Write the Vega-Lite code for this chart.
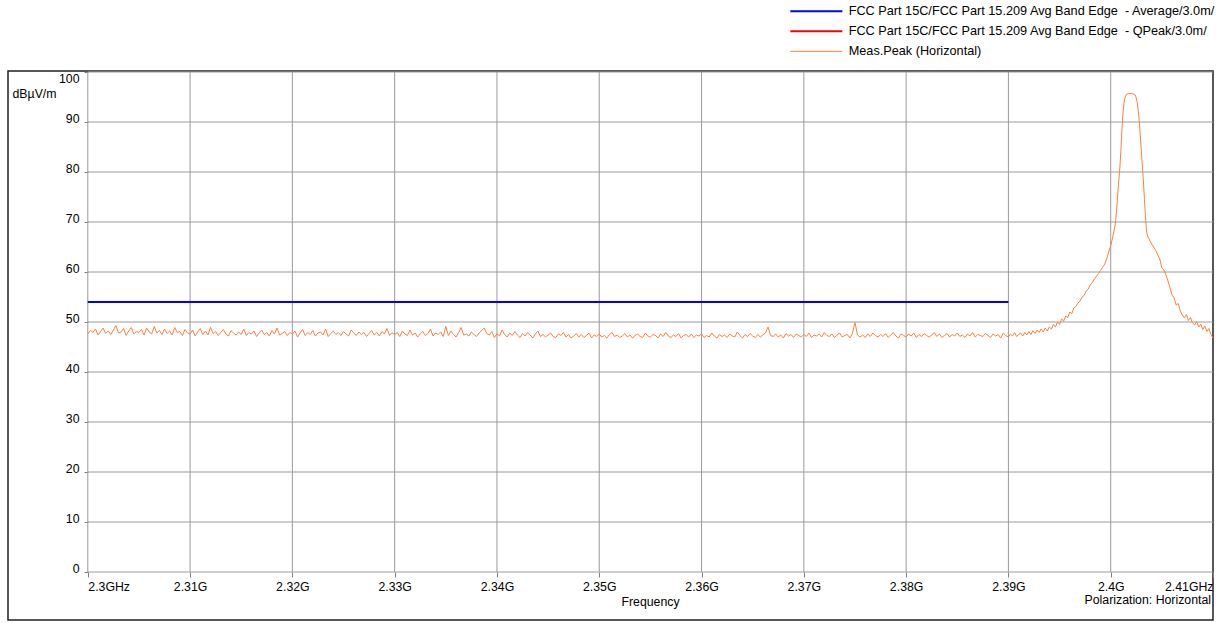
{
  "$schema": "https://vega.github.io/schema/vega-lite/v6.json",
  "width": 1205,
  "height": 549,
  "autosize": "none",
  "padding": {"left": 8, "top": 71, "right": 12, "bottom": 3},
  "background": "#ffffff",
  "config": {
    "view": {"stroke": "#202020", "strokeWidth": 1.5},
    "font": "Liberation Sans",
    "axis": {"labelFont": "Liberation Sans", "titleFont": "Liberation Sans", "labelColor": "#000000", "titleColor": "#000000"},
    "legend": {"labelFont": "Liberation Sans"},
    "title": {"font": "Liberation Sans"}
  },
  "title": {
    "text": "Polarization: Horizontal",
    "orient": "bottom",
    "anchor": "end",
    "frame": "group",
    "offset": -26,
    "dx": -2,
    "fontSize": 12.3,
    "fontWeight": "normal",
    "color": "#000000"
  },
  "datasets": {
    "vgrid": [{"f": 2300}, {"f": 2310}, {"f": 2320}, {"f": 2330}, {"f": 2340}, {"f": 2350}, {"f": 2360}, {"f": 2370}, {"f": 2380}, {"f": 2390}, {"f": 2400}],
    "hgrid": [{"v": 0}, {"v": 10}, {"v": 20}, {"v": 30}, {"v": 40}, {"v": 50}, {"v": 60}, {"v": 70}, {"v": 80}, {"v": 90}, {"v": 100}],
    "limit": [
      {"s": "FCC Part 15C/FCC Part 15.209 Avg Band Edge\u00a0 - Average/3.0m/", "f": 2300, "v": 54},
      {"s": "FCC Part 15C/FCC Part 15.209 Avg Band Edge\u00a0 - Average/3.0m/", "f": 2390, "v": 54}
    ],
    "trace": [
      {"f":2300,"v":47.6},{"f":2300.25,"v":48.3},{"f":2300.5,"v":47.9},{"f":2300.75,"v":48.6},{"f":2301,"v":47.4},{"f":2301.25,"v":48.1},{"f":2301.5,"v":48.8},{"f":2301.75,"v":47.7},{"f":2302,"v":48.2},{"f":2302.25,"v":47.5},
      {"f":2302.5,"v":48.4},{"f":2302.75,"v":49.3},{"f":2303,"v":47.8},{"f":2303.25,"v":48.0},{"f":2303.5,"v":48.7},{"f":2303.75,"v":47.3},{"f":2304,"v":48.2},{"f":2304.25,"v":48.9},{"f":2304.5,"v":47.6},{"f":2304.75,"v":48.1},
      {"f":2305,"v":47.9},{"f":2305.25,"v":48.5},{"f":2305.5,"v":47.4},{"f":2305.75,"v":48.8},{"f":2306,"v":48.0},{"f":2306.25,"v":47.6},{"f":2306.5,"v":49.1},{"f":2306.75,"v":47.8},{"f":2307,"v":48.3},{"f":2307.25,"v":47.5},
      {"f":2307.5,"v":48.6},{"f":2307.75,"v":47.7},{"f":2308,"v":48.2},{"f":2308.25,"v":47.4},{"f":2308.5,"v":48.9},{"f":2308.75,"v":47.9},{"f":2309,"v":48.1},{"f":2309.25,"v":47.3},{"f":2309.5,"v":48.5},{"f":2309.75,"v":47.8},
      {"f":2310,"v":47.6},{"f":2310.25,"v":48.4},{"f":2310.5,"v":47.2},{"f":2310.75,"v":48.0},{"f":2311,"v":48.7},{"f":2311.25,"v":47.5},{"f":2311.5,"v":48.2},{"f":2311.75,"v":47.4},{"f":2312,"v":48.9},{"f":2312.25,"v":47.7},
      {"f":2312.5,"v":48.1},{"f":2312.75,"v":47.3},{"f":2313,"v":47.9},{"f":2313.25,"v":48.5},{"f":2313.5,"v":47.6},{"f":2313.75,"v":47.2},{"f":2314,"v":48.3},{"f":2314.25,"v":47.8},{"f":2314.5,"v":47.4},{"f":2314.75,"v":48.0},
      {"f":2315,"v":47.5},{"f":2315.25,"v":48.6},{"f":2315.5,"v":47.3},{"f":2315.75,"v":47.9},{"f":2316,"v":47.6},{"f":2316.25,"v":48.2},{"f":2316.5,"v":47.1},{"f":2316.75,"v":47.8},{"f":2317,"v":48.4},{"f":2317.25,"v":47.5},
      {"f":2317.5,"v":47.9},{"f":2317.75,"v":47.2},{"f":2318,"v":48.3},{"f":2318.25,"v":47.6},{"f":2318.5,"v":48.8},{"f":2318.75,"v":47.4},{"f":2319,"v":47.7},{"f":2319.25,"v":48.1},{"f":2319.5,"v":47.3},{"f":2319.75,"v":47.9},
      {"f":2320,"v":47.6},{"f":2320.25,"v":48.2},{"f":2320.5,"v":47.0},{"f":2320.75,"v":47.8},{"f":2321,"v":48.5},{"f":2321.25,"v":47.3},{"f":2321.5,"v":47.9},{"f":2321.75,"v":47.5},{"f":2322,"v":48.3},{"f":2322.25,"v":47.2},
      {"f":2322.5,"v":47.8},{"f":2322.75,"v":48.0},{"f":2323,"v":47.4},{"f":2323.25,"v":48.6},{"f":2323.5,"v":47.1},{"f":2323.75,"v":47.7},{"f":2324,"v":48.2},{"f":2324.25,"v":47.5},{"f":2324.5,"v":47.9},{"f":2324.75,"v":47.3},
      {"f":2325,"v":48.1},{"f":2325.25,"v":47.6},{"f":2325.5,"v":47.2},{"f":2325.75,"v":48.4},{"f":2326,"v":47.8},{"f":2326.25,"v":47.3},{"f":2326.5,"v":48.0},{"f":2326.75,"v":47.5},{"f":2327,"v":47.9},{"f":2327.25,"v":47.1},
      {"f":2327.5,"v":47.7},{"f":2327.75,"v":48.3},{"f":2328,"v":47.4},{"f":2328.25,"v":47.9},{"f":2328.5,"v":47.2},{"f":2328.75,"v":48.1},{"f":2329,"v":47.6},{"f":2329.25,"v":48.7},{"f":2329.5,"v":47.3},{"f":2329.75,"v":47.8},
      {"f":2330,"v":47.5},{"f":2330.25,"v":47.9},{"f":2330.5,"v":47.1},{"f":2330.75,"v":48.2},{"f":2331,"v":47.6},{"f":2331.25,"v":47.3},{"f":2331.5,"v":48.4},{"f":2331.75,"v":47.4},{"f":2332,"v":47.8},{"f":2332.25,"v":47.0},
      {"f":2332.5,"v":47.6},{"f":2332.75,"v":48.1},{"f":2333,"v":47.3},{"f":2333.25,"v":47.7},{"f":2333.5,"v":48.6},{"f":2333.75,"v":47.2},{"f":2334,"v":47.8},{"f":2334.25,"v":47.5},{"f":2334.5,"v":48.0},{"f":2334.75,"v":47.1},
      {"f":2335,"v":49.1},{"f":2335.25,"v":47.3},{"f":2335.5,"v":48.2},{"f":2335.75,"v":47.5},{"f":2336,"v":47.0},{"f":2336.25,"v":47.9},{"f":2336.5,"v":48.9},{"f":2336.75,"v":47.4},{"f":2337,"v":47.6},{"f":2337.25,"v":47.2},
      {"f":2337.5,"v":48.0},{"f":2337.75,"v":47.5},{"f":2338,"v":47.1},{"f":2338.25,"v":47.8},{"f":2338.5,"v":48.3},{"f":2338.75,"v":48.8},{"f":2339,"v":47.7},{"f":2339.25,"v":47.4},{"f":2339.5,"v":48.1},{"f":2339.75,"v":46.9},
      {"f":2340,"v":47.6},{"f":2340.25,"v":47.2},{"f":2340.5,"v":48.4},{"f":2340.75,"v":47.5},{"f":2341,"v":47.0},{"f":2341.25,"v":47.8},{"f":2341.5,"v":47.3},{"f":2341.75,"v":48.1},{"f":2342,"v":47.4},{"f":2342.25,"v":46.9},
      {"f":2342.5,"v":47.7},{"f":2342.75,"v":47.2},{"f":2343,"v":47.9},{"f":2343.25,"v":47.4},{"f":2343.5,"v":46.8},{"f":2343.75,"v":47.6},{"f":2344,"v":48.2},{"f":2344.25,"v":47.1},{"f":2344.5,"v":47.5},{"f":2344.75,"v":47.0},
      {"f":2345,"v":47.4},{"f":2345.25,"v":47.8},{"f":2345.5,"v":47.1},{"f":2345.75,"v":46.9},{"f":2346,"v":47.6},{"f":2346.25,"v":47.3},{"f":2346.5,"v":47.9},{"f":2346.75,"v":47.0},{"f":2347,"v":47.5},{"f":2347.25,"v":46.8},
      {"f":2347.5,"v":47.2},{"f":2347.75,"v":47.7},{"f":2348,"v":47.0},{"f":2348.25,"v":47.5},{"f":2348.5,"v":46.9},{"f":2348.75,"v":47.3},{"f":2349,"v":47.8},{"f":2349.25,"v":46.8},{"f":2349.5,"v":47.4},{"f":2349.75,"v":47.1},
      {"f":2350,"v":47.6},{"f":2350.25,"v":47.0},{"f":2350.5,"v":47.3},{"f":2350.75,"v":46.8},{"f":2351,"v":47.5},{"f":2351.25,"v":47.9},{"f":2351.5,"v":47.1},{"f":2351.75,"v":47.4},{"f":2352,"v":46.9},{"f":2352.25,"v":47.2},
      {"f":2352.5,"v":47.7},{"f":2352.75,"v":47.0},{"f":2353,"v":47.4},{"f":2353.25,"v":46.8},{"f":2353.5,"v":47.3},{"f":2353.75,"v":47.6},{"f":2354,"v":47.1},{"f":2354.25,"v":46.9},{"f":2354.5,"v":47.8},{"f":2354.75,"v":47.2},
      {"f":2355,"v":47.0},{"f":2355.25,"v":47.5},{"f":2355.5,"v":47.3},{"f":2355.75,"v":46.8},{"f":2356,"v":47.6},{"f":2356.25,"v":47.1},{"f":2356.5,"v":47.9},{"f":2356.75,"v":47.2},{"f":2357,"v":46.9},{"f":2357.25,"v":47.4},
      {"f":2357.5,"v":47.1},{"f":2357.75,"v":47.7},{"f":2358,"v":46.8},{"f":2358.25,"v":47.3},{"f":2358.5,"v":47.5},{"f":2358.75,"v":47.0},{"f":2359,"v":47.6},{"f":2359.25,"v":46.9},{"f":2359.5,"v":47.4},{"f":2359.75,"v":47.2},
      {"f":2360,"v":47.6},{"f":2360.25,"v":46.9},{"f":2360.5,"v":47.3},{"f":2360.75,"v":47.0},{"f":2361,"v":47.8},{"f":2361.25,"v":47.2},{"f":2361.5,"v":46.8},{"f":2361.75,"v":47.5},{"f":2362,"v":47.1},{"f":2362.25,"v":47.4},
      {"f":2362.5,"v":46.9},{"f":2362.75,"v":47.6},{"f":2363,"v":47.2},{"f":2363.25,"v":47.0},{"f":2363.5,"v":48.0},{"f":2363.75,"v":47.3},{"f":2364,"v":46.8},{"f":2364.25,"v":47.5},{"f":2364.5,"v":47.1},{"f":2364.75,"v":47.7},
      {"f":2365,"v":47.2},{"f":2365.25,"v":46.9},{"f":2365.5,"v":47.5},{"f":2365.75,"v":47.0},{"f":2366,"v":47.4},{"f":2366.25,"v":47.8},{"f":2366.5,"v":49.0},{"f":2366.75,"v":47.3},{"f":2367,"v":47.1},{"f":2367.25,"v":47.6},
      {"f":2367.5,"v":47.0},{"f":2367.75,"v":47.4},{"f":2368,"v":46.8},{"f":2368.25,"v":47.7},{"f":2368.5,"v":47.2},{"f":2368.75,"v":47.5},{"f":2369,"v":46.9},{"f":2369.25,"v":47.6},{"f":2369.5,"v":47.3},{"f":2369.75,"v":47.0},
      {"f":2370,"v":47.5},{"f":2370.25,"v":47.1},{"f":2370.5,"v":47.8},{"f":2370.75,"v":46.9},{"f":2371,"v":47.4},{"f":2371.25,"v":47.2},{"f":2371.5,"v":47.6},{"f":2371.75,"v":47.0},{"f":2372,"v":47.9},{"f":2372.25,"v":47.3},
      {"f":2372.5,"v":47.1},{"f":2372.75,"v":47.6},{"f":2373,"v":46.9},{"f":2373.25,"v":47.4},{"f":2373.5,"v":47.8},{"f":2373.75,"v":47.0},{"f":2374,"v":47.3},{"f":2374.25,"v":47.5},{"f":2374.5,"v":46.8},{"f":2374.75,"v":47.7},
      {"f":2375,"v":49.9},{"f":2375.25,"v":47.4},{"f":2375.5,"v":47.0},{"f":2375.75,"v":47.4},{"f":2376,"v":46.9},{"f":2376.25,"v":47.6},{"f":2376.5,"v":47.1},{"f":2376.75,"v":47.8},{"f":2377,"v":47.3},{"f":2377.25,"v":47.0},
      {"f":2377.5,"v":47.5},{"f":2377.75,"v":47.1},{"f":2378,"v":47.7},{"f":2378.25,"v":46.9},{"f":2378.5,"v":47.4},{"f":2378.75,"v":47.9},{"f":2379,"v":47.2},{"f":2379.25,"v":46.8},{"f":2379.5,"v":47.6},{"f":2379.75,"v":47.3},
      {"f":2380,"v":47.0},{"f":2380.25,"v":47.6},{"f":2380.5,"v":47.2},{"f":2380.75,"v":47.8},{"f":2381,"v":46.9},{"f":2381.25,"v":47.5},{"f":2381.5,"v":47.1},{"f":2381.75,"v":47.7},{"f":2382,"v":47.3},{"f":2382.25,"v":47.0},
      {"f":2382.5,"v":47.4},{"f":2382.75,"v":47.9},{"f":2383,"v":47.1},{"f":2383.25,"v":47.6},{"f":2383.5,"v":46.9},{"f":2383.75,"v":47.3},{"f":2384,"v":47.7},{"f":2384.25,"v":47.0},{"f":2384.5,"v":47.5},{"f":2384.75,"v":47.2},
      {"f":2385,"v":47.8},{"f":2385.25,"v":47.1},{"f":2385.5,"v":47.4},{"f":2385.75,"v":46.9},{"f":2386,"v":47.6},{"f":2386.25,"v":47.2},{"f":2386.5,"v":47.9},{"f":2386.75,"v":47.0},{"f":2387,"v":47.5},{"f":2387.25,"v":47.3},
      {"f":2387.5,"v":47.1},{"f":2387.75,"v":47.7},{"f":2388,"v":47.3},{"f":2388.25,"v":46.9},{"f":2388.5,"v":47.6},{"f":2388.75,"v":47.2},{"f":2389,"v":47.5},{"f":2389.25,"v":46.8},{"f":2389.5,"v":47.8},{"f":2389.75,"v":47.3},
      {"f":2390,"v":47.0},{"f":2390.2,"v":47.6},{"f":2390.4,"v":47.2},{"f":2390.6,"v":47.9},{"f":2390.8,"v":47.1},{"f":2391,"v":47.5},{"f":2391.2,"v":47.8},{"f":2391.4,"v":47.2},{"f":2391.6,"v":47.9},{"f":2391.8,"v":47.4},
      {"f":2392,"v":48.1},{"f":2392.2,"v":47.5},{"f":2392.4,"v":48.3},{"f":2392.6,"v":47.7},{"f":2392.8,"v":48.4},{"f":2393,"v":47.9},{"f":2393.2,"v":48.6},{"f":2393.4,"v":48.0},{"f":2393.6,"v":48.8},{"f":2393.8,"v":48.2},
      {"f":2394,"v":49.0},{"f":2394.2,"v":48.6},{"f":2394.4,"v":49.5},{"f":2394.6,"v":49.0},{"f":2394.8,"v":50.0},{"f":2395,"v":49.5},{"f":2395.2,"v":50.6},{"f":2395.4,"v":50.2},{"f":2395.6,"v":51.2},{"f":2395.8,"v":50.9},
      {"f":2396,"v":52.0},{"f":2396.2,"v":51.7},{"f":2396.4,"v":52.8},{"f":2396.6,"v":53.1},{"f":2396.8,"v":53.8},{"f":2397,"v":54.2},{"f":2397.2,"v":55.0},{"f":2397.4,"v":55.3},{"f":2397.6,"v":56.2},{"f":2397.8,"v":56.6},
      {"f":2398,"v":57.4},{"f":2398.2,"v":57.9},{"f":2398.4,"v":58.6},{"f":2398.6,"v":59.1},{"f":2398.8,"v":59.7},{"f":2399,"v":60.3},{"f":2399.2,"v":60.9},{"f":2399.4,"v":61.5},{"f":2399.6,"v":62.6},{"f":2399.8,"v":64.0},
      {"f":2400,"v":65.2},{"f":2400.2,"v":67.0},{"f":2400.4,"v":69.0},{"f":2400.5,"v":70.5},{"f":2400.6,"v":73.0},{"f":2400.7,"v":76.0},{"f":2400.8,"v":78.5},{"f":2400.9,"v":81.0},{"f":2401,"v":84.5},{"f":2401.1,"v":88.5},
      {"f":2401.2,"v":91.8},{"f":2401.3,"v":93.8},{"f":2401.4,"v":94.9},{"f":2401.5,"v":95.4},{"f":2401.6,"v":95.6},{"f":2401.8,"v":95.7},{"f":2402,"v":95.7},{"f":2402.2,"v":95.6},{"f":2402.4,"v":95.4},{"f":2402.5,"v":94.8},
      {"f":2402.6,"v":93.8},{"f":2402.7,"v":92.2},{"f":2402.8,"v":90.0},{"f":2402.9,"v":87.0},{"f":2403,"v":84.0},{"f":2403.1,"v":81.0},{"f":2403.2,"v":78.0},{"f":2403.3,"v":74.5},{"f":2403.4,"v":71.0},{"f":2403.5,"v":68.2},
      {"f":2403.6,"v":67.2},{"f":2403.8,"v":66.4},{"f":2404,"v":65.6},{"f":2404.2,"v":65.0},{"f":2404.4,"v":64.3},{"f":2404.6,"v":63.4},{"f":2404.8,"v":62.6},{"f":2405,"v":60.8},{"f":2405.2,"v":60.4},{"f":2405.4,"v":59.4},
      {"f":2405.6,"v":58.2},{"f":2405.8,"v":56.8},{"f":2406,"v":55.4},{"f":2406.2,"v":54.8},{"f":2406.4,"v":53.4},{"f":2406.6,"v":53.7},{"f":2406.8,"v":52.2},{"f":2407,"v":51.4},{"f":2407.2,"v":50.8},{"f":2407.4,"v":51.5},
      {"f":2407.6,"v":50.3},{"f":2407.8,"v":50.9},{"f":2408,"v":49.8},{"f":2408.2,"v":49.4},{"f":2408.4,"v":50.1},{"f":2408.6,"v":49.0},{"f":2408.8,"v":49.6},{"f":2409,"v":48.5},{"f":2409.2,"v":49.2},{"f":2409.4,"v":48.1},
      {"f":2409.6,"v":48.7},{"f":2409.8,"v":47.5},{"f":2410,"v":46.8}
    ]
  },
  "layer": [
    {
      "data": {"name": "vgrid"},
      "mark": {"type": "rule", "color": "#9a9a9a", "strokeWidth": 1},
      "encoding": {
        "x": {"field": "f", "type": "quantitative", "scale": {"domain": [2292.2, 2410], "nice": false, "zero": false}},
        "y": {"datum": 0, "type": "quantitative", "scale": {"domain": [-9.6, 100.2], "nice": false, "zero": false}},
        "y2": {"datum": 100}
      }
    },
    {
      "data": {"name": "hgrid"},
      "mark": {"type": "rule", "color": "#9a9a9a", "strokeWidth": 1},
      "encoding": {
        "y": {"field": "v", "type": "quantitative", "scale": {"domain": [-9.6, 100.2], "nice": false, "zero": false}},
        "x": {"datum": 2300, "type": "quantitative", "scale": {"domain": [2292.2, 2410], "nice": false, "zero": false}},
        "x2": {"datum": 2410}
      }
    },
    {
      "data": {"name": "limit"},
      "mark": {"type": "line", "strokeWidth": 2},
      "encoding": {
        "x": {"field": "f", "type": "quantitative", "scale": {"domain": [2292.2, 2410], "nice": false, "zero": false}},
        "y": {"field": "v", "type": "quantitative", "scale": {"domain": [-9.6, 100.2], "nice": false, "zero": false}},
        "color": {
          "field": "s",
          "type": "nominal",
          "scale": {
            "domain": [
              "FCC Part 15C/FCC Part 15.209 Avg Band Edge\u00a0 - Average/3.0m/",
              "FCC Part 15C/FCC Part 15.209 Avg Band Edge\u00a0 - QPeak/3.0m/",
              "Meas.Peak (Horizontal)"
            ],
            "range": ["#0000ff", "#ff0000", "#ff8040"]
          },
          "legend": {
            "orient": "none",
            "legendX": 782,
            "legendY": -66,
            "title": null,
            "padding": 0,
            "symbolType": "M-5.2,0H5.2",
            "symbolSize": 100,
            "symbolStrokeWidth": 2,
            "symbolOffset": 20,
            "labelOffset": 26,
            "labelFontSize": 12.7,
            "labelColor": "#000000",
            "labelLimit": 600,
            "rowPadding": 6,
            "encode": {
              "symbols": {"update": {"strokeWidth": {"signal": "datum.label == 'Meas.Peak (Horizontal)' ? 1 : 2"}}}
            }
          }
        }
      }
    },
    {
      "data": {"name": "trace"},
      "mark": {"type": "line", "strokeWidth": 1},
      "encoding": {
        "x": {
          "field": "f",
          "type": "quantitative",
          "scale": {"domain": [2292.2, 2410], "nice": false, "zero": false},
          "axis": {
            "orient": "bottom",
            "offset": -48,
            "values": [2300, 2310, 2320, 2330, 2340, 2350, 2360, 2370, 2380, 2390, 2400, 2410],
            "grid": false,
            "domain": false,
            "tickSize": 5,
            "tickColor": "#808080",
            "labelExpr": "datum.value == 2300 ? '2.3GHz' : datum.value == 2410 ? '2.41GHz' : (datum.value / 1000) + 'G'",
            "labelAlign": {"expr": "datum.value == 2300 ? 'left' : datum.value == 2410 ? 'right' : 'center'"},
            "labelBaseline": "top",
            "labelPadding": 3,
            "labelFontSize": 12.3,
            "labelOverlap": false,
            "labelFlush": false,
            "title": "Frequency",
            "titleFontSize": 12.3,
            "titleFontWeight": "normal",
            "titleAlign": "center",
            "titleBaseline": "middle",
            "titleX": 642,
            "titleY": 29
          }
        },
        "y": {
          "field": "v",
          "type": "quantitative",
          "scale": {"domain": [-9.6, 100.2], "nice": false, "zero": false},
          "axis": {
            "orient": "left",
            "offset": -80,
            "values": [0, 10, 20, 30, 40, 50, 60, 70, 80, 90, 100],
            "grid": false,
            "domain": false,
            "tickSize": 4,
            "tickColor": "#808080",
            "labelPadding": 5,
            "labelFontSize": 12.3,
            "labelBaseline": {"expr": "datum.value == 100 ? 'top' : 'alphabetic'"},
            "labelOverlap": false,
            "labelFlush": false,
            "title": "dBµV/m",
            "titleFontSize": 12.3,
            "titleFontWeight": "normal",
            "titleAngle": 0,
            "titleAlign": "left",
            "titleBaseline": "alphabetic",
            "titleX": -76,
            "titleY": 26
          }
        },
        "color": {
          "datum": "Meas.Peak (Horizontal)",
          "type": "nominal"
        }
      }
    }
  ]
}
